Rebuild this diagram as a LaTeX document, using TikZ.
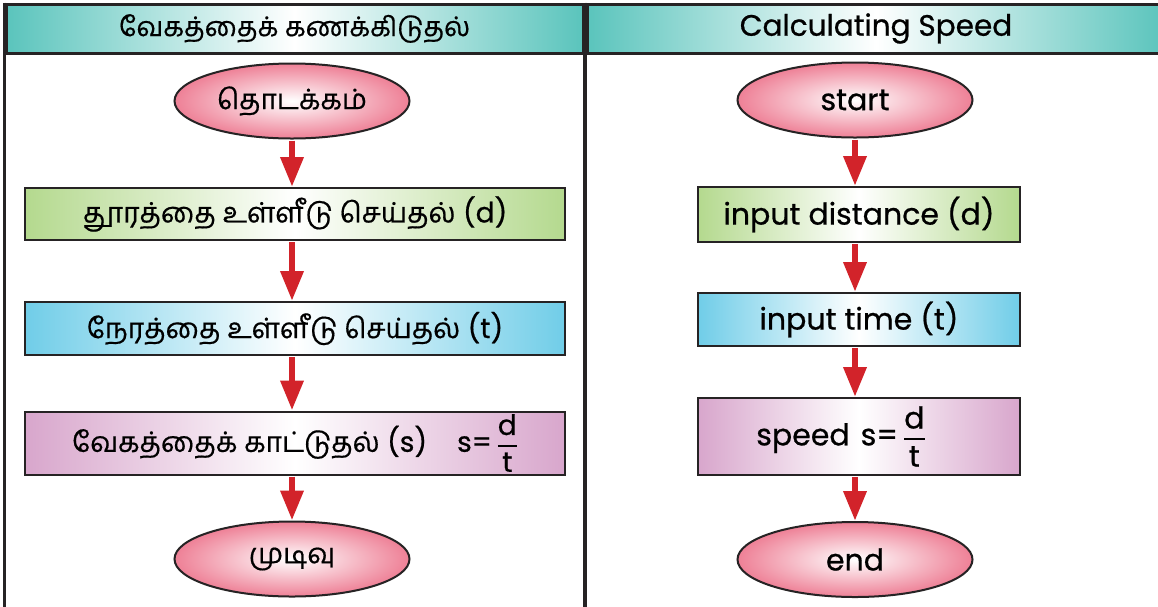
\documentclass[tikz,border=0pt]{standalone}
\usepackage{fontspec}
\usepackage{amsmath}
\setmainfont{Poppins}[FakeBold=0.7]
\newfontfamily\tamilfont{Hind Madurai}[Script=Tamil,FakeBold=0.5]
\usetikzlibrary{shapes.geometric,arrows.meta}
\definecolor{tealE}{HTML}{5AC4BC}
\definecolor{pinkE}{HTML}{EE8096}
\definecolor{greenE}{HTML}{B4D98E}
\definecolor{blueE}{HTML}{70CDE8}
\definecolor{purpE}{HTML}{D8A6CC}
\definecolor{redA}{HTML}{D2232A}
\definecolor{lineC}{HTML}{262324}
\newcommand{\spfrac}{s=\,$\genfrac{}{}{2pt}{0}{\mbox{d}}{\mbox{t}}$}
\tikzset{
  hdr/.style={rectangle, draw=lineC, line width=3pt, left color=tealE, right color=tealE, middle color=white, inner sep=0pt},
  frameline/.style={draw=lineC, line width=3.5pt},
  ell/.style={ellipse, draw=lineC, line width=2pt, inner color=white, outer color=pinkE, minimum width=235pt, minimum height=75pt, inner sep=0pt},
  gbox/.style={rectangle, draw=lineC, line width=2pt, left color=greenE, right color=greenE, middle color=white, inner sep=0pt},
  bbox/.style={rectangle, draw=lineC, line width=2pt, left color=blueE, right color=blueE, middle color=white, inner sep=0pt},
  pbox/.style={rectangle, draw=lineC, line width=2pt, left color=purpE, right color=purpE, middle color=white, inner sep=0pt},
  tam/.style={font=\fontsize{28}{32}\selectfont},
  eng/.style={font=\fontsize{30}{34}\selectfont},
  flow/.style={draw=redA, line width=6.5pt, -{Triangle[length=30pt,width=22pt]}, shorten <=1pt},
}
\begin{document}
\begin{tikzpicture}[x=1pt,y=-1pt]
\useasboundingbox (0,0) rectangle (1158,606);
\fill[white] (0,0) rectangle (1158,606);
% headers
\node[hdr, minimum width=577pt, minimum height=49pt, font=\fontsize{27}{30}\selectfont] (h1) at (294.5,28.5) {\tamilfont வேகத்தைக் கணக்கிடுதல்};
\node[hdr, minimum width=578pt, minimum height=49pt, font=\fontsize{29.5}{32}\selectfont] (h2) at (876,28.5) {Calculating Speed};
\draw[frameline] (h1.north west) -- (h1.north west |- 0,620);
\draw[frameline] (h1.north east) -- (h1.north east |- 0,620);
\draw[frameline] (h2.north west) -- (h2.north west |- 0,620);
% left flow
\node[ell, tam] (ls) at (292,101) {\tamilfont தொடக்கம்};
\node[gbox, tam, minimum width=540pt, minimum height=52pt] (lg) at (295,214) {{\tamilfont தூரத்தை உள்ளீடு செய்தல்} (d)};
\node[bbox, tam, minimum width=540pt, minimum height=53pt] (lb) at (295,328.5) {{\tamilfont நேரத்தை உள்ளீடு செய்தல்} (t)};
\node[pbox, tam, minimum width=540pt, minimum height=63pt] (lp) at (295,443) {{\tamilfont வேகத்தைக் காட்டுதல்} (s)\hspace{30pt}\spfrac};
\node[ell, tam] (le) at (292,559) {\tamilfont முடிவு};
\draw[flow] (ls.south) -- (ls.south |- lg.north);
\draw[flow] (lg.south -| ls.south) -- (ls.south |- lb.north);
\draw[flow] (lb.south -| ls.south) -- (ls.south |- lp.north);
\draw[flow] (lp.south -| ls.south) -- (le.north);
% right flow
\node[ell, eng] (rs) at (855,100) {start};
\node[gbox, eng, minimum width=322pt, minimum height=55pt] (rg) at (859,214.5) {input distance (d)};
\node[bbox, eng, minimum width=322pt, minimum height=53pt] (rb) at (859,319.5) {input time (t)};
\node[pbox, eng, minimum width=322pt, minimum height=77pt] (rp) at (859,436.5) {\hspace{-36pt}speed\hspace{11pt}\spfrac};
\node[ell, eng] (re) at (855,559.5) {end};
\draw[flow] (rs.south) -- (rs.south |- rg.north);
\draw[flow] (rg.south -| rs.south) -- (rs.south |- rb.north);
\draw[flow] (rb.south -| rs.south) -- (rs.south |- rp.north);
\draw[flow] (rp.south -| rs.south) -- (re.north);
\end{tikzpicture}
\end{document}
